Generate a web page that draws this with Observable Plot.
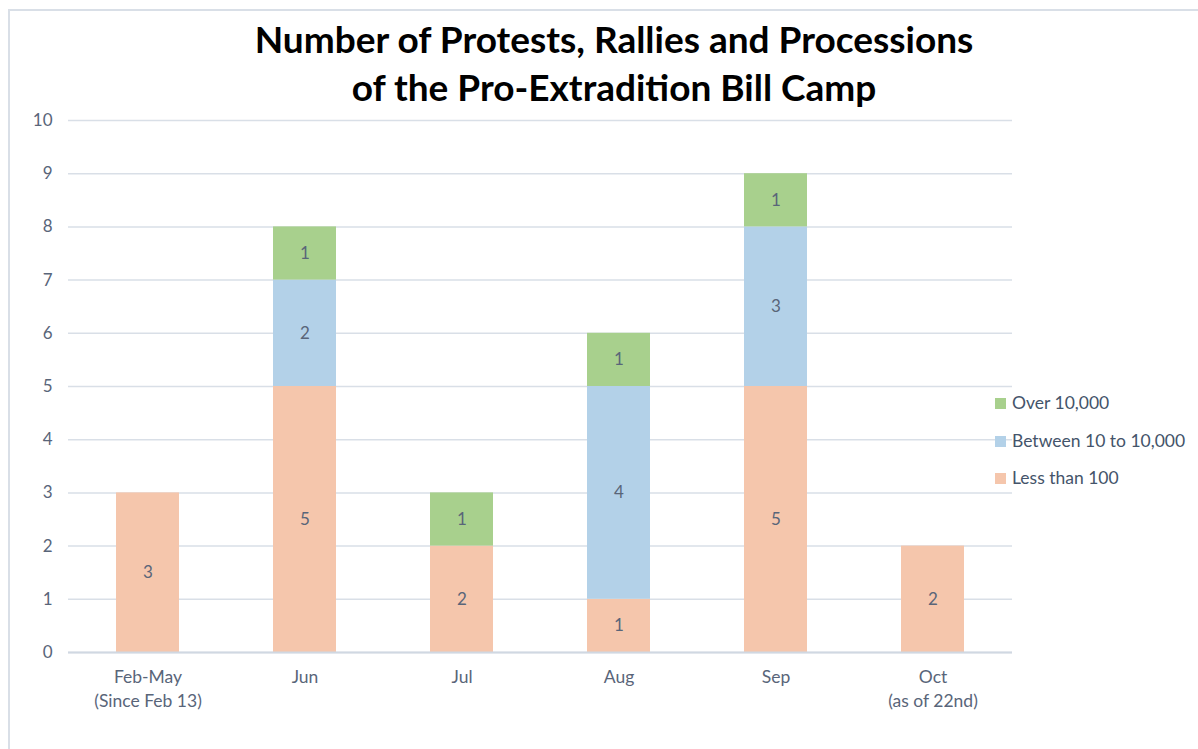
<!DOCTYPE html>
<html>
<head>
<meta charset="utf-8">
<script src="https://cdn.jsdelivr.net/npm/d3@7"></script>
<script src="https://cdn.jsdelivr.net/npm/@observablehq/plot@0.6"></script>
<style>
  html, body { margin: 0; padding: 0; background: #fff; }
  body { width: 1198px; height: 749px; position: relative; overflow: hidden; font-family: Lato, "Open Sans", sans-serif; }
  #frame { position: absolute; left: 8px; top: 9px; width: 1300px; height: 800px; border-left: 2px solid #d9dfe7; border-top: 2px solid #d9dfe7; }
  #title { position: absolute; left: 0; width: 1228px; top: 15px; text-align: center; font-family: Lato, sans-serif; font-weight: 700; font-size: 37px; line-height: 48px; color: #000; letter-spacing: 0px; }
  #chart { position: absolute; left: 0; top: 100px; }
  #legend { position: absolute; left: 995px; top: 392px; font-size: 17.5px; color: #44546a; font-family: Lato, sans-serif; }
  #legend .item { height: 37.5px; display: flex; align-items: flex-start; white-space: nowrap; }
  #legend .sw { width: 11px; height: 11px; margin-top: 6px; margin-right: 6px; }
</style>
</head>
<body>
<div id="frame"></div>
<div id="title">Number of Protests, Rallies and Processions<br>of the Pro-Extradition Bill Camp</div>
<div id="chart"></div>
<div id="legend"></div>
<script>
const categories = ["Feb-May\n(Since Feb 13)", "Jun", "Jul", "Aug", "Sep", "Oct\n(as of 22nd)"];
const series = ["Less than 100", "Between 10 to 10,000", "Over 10,000"];
const lessThan100 = [3, 5, 2, 1, 5, 2];
const between10to10000 = [0, 2, 0, 4, 3, 0];
const over10000 = [0, 1, 1, 1, 1, 0];
const colors = ["#f5c6ac", "#b3d1e8", "#a8d08d"];
const yTicks = [0, 1, 2, 3, 4, 5, 6, 7, 8, 9, 10];

const valuesBySeries = [lessThan100, between10to10000, over10000];
const data = [];
series.forEach((s, si) => {
  categories.forEach((c, ci) => {
    const v = valuesBySeries[si][ci];
    if (v > 0) data.push({category: c, series: s, value: v});
  });
});

const chart = Plot.plot({
  width: 1198,
  height: 640,
  marginTop: 20,
  marginBottom: 88,
  marginLeft: 68,
  marginRight: 186,
  style: {fontFamily: "Lato, sans-serif", background: "transparent"},
  x: {domain: categories, paddingInner: 0.6, paddingOuter: 0.3, label: null},
  y: {domain: [0, 10], label: null},
  color: {domain: series, range: colors},
  marks: [
    Plot.gridY(yTicks, {stroke: "#d9dfe7", strokeOpacity: 1, strokeWidth: 1.5}),
    Plot.barY(data, Plot.stackY({x: "category", y: "value", fill: "series", order: series})),
    Plot.text(data, Plot.stackY({x: "category", y: "value", z: "series", order: series, text: d => String(d.value), fill: "#596579", fontSize: 17})),
    Plot.ruleY([0], {stroke: "#d0d8e2", strokeWidth: 2}),
    Plot.axisY(yTicks, {tickSize: 0, tickPadding: 16, fontSize: 17, fill: "#596579", label: null, tickFormat: d => String(d)}),
    Plot.axisX({tickSize: 0, tickPadding: 14, fontSize: 17.5, fill: "#596579", lineHeight: 1.35, label: null, textAnchor: "middle"})
  ]
});
document.getElementById("chart").appendChild(chart);

const legend = document.getElementById("legend");
[2, 1, 0].forEach(i => {
  const item = document.createElement("div");
  item.className = "item";
  const sw = document.createElement("div");
  sw.className = "sw";
  sw.style.background = colors[i];
  const label = document.createElement("span");
  label.textContent = series[i];
  item.appendChild(sw);
  item.appendChild(label);
  legend.appendChild(item);
});
</script>
</body>
</html>
